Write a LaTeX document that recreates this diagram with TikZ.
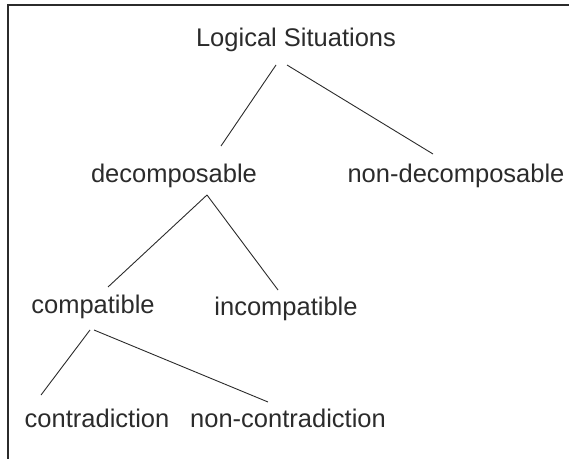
\documentclass[tikz,border=0pt]{standalone}
\usepackage{fontspec}
\setmainfont{Liberation Sans}
\definecolor{inkgray}{HTML}{2B2B2B}
\begin{document}
\begin{tikzpicture}[x=1bp,y=-1bp,
  leaf/.style={anchor=base,inner sep=0pt,text=inkgray,
    font=\fontsize{25.5bp}{30bp}\selectfont},
  branch/.style={inkgray,line width=0.9bp}]
\useasboundingbox (0,0) rectangle (569,459);
% frame (top and left only)
\draw[inkgray,line width=2.6bp] (569,5)--(8,5)--(8,459);

\node[leaf] (top)    at (296,47)  {Logical Situations};
\node[leaf] (dec)    at (174,183) {decomposable};
\node[leaf] (ndec)   at (456,183) {non-decomposable};
\node[leaf] (comp)   at (93,313)  {compatible};
\node[leaf] (incomp) at (286,315) {incompatible};
\node[leaf] (contra) at (97,427)  {contradiction};
\node[leaf] (ncontra) at (288,427) {non-contradiction};

\draw[branch] ([shift={(-20,18)}]top.base)--([shift={(47,-37)}]dec.base);
\draw[branch] ([shift={(-9,18)}]top.base)--([shift={(-23,-29)}]ndec.base);
\draw[branch] ([shift={(33,12)}]dec.base)--([shift={(15,-26)}]comp.base);
\draw[branch] ([shift={(33,12)}]dec.base)--([shift={(-8,-25)}]incomp.base);
\draw[branch] ([shift={(-3,17)}]comp.base)--([shift={(-56,-32)}]contra.base);
\draw[branch] ([shift={(1,17)}]comp.base)--([shift={(-20,-25)}]ncontra.base);

\end{tikzpicture}
\end{document}
